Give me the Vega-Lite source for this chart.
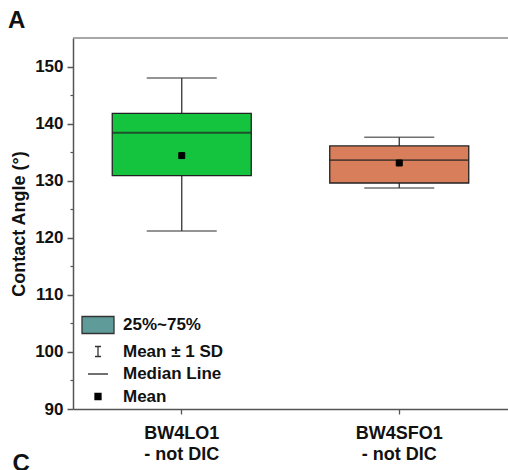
{
  "$schema": "https://vega.github.io/schema/vega-lite/v6.json",
  "width": 435,
  "height": 371,
  "autosize": "none",
  "padding": {"left": 73, "top": 38, "right": 0, "bottom": 61},
  "background": "white",
  "config": {"font": "Liberation Sans", "view": {"stroke": null}},
  "title": {
    "text": "A",
    "anchor": "start",
    "frame": "group",
    "fontSize": 24,
    "fontWeight": "bold",
    "color": "#111111",
    "dx": -65,
    "dy": 25,
    "offset": 10,
    "baseline": "alphabetic"
  },
  "data": {
    "values": [
      {"group": "BW4LO1\n- not DIC", "min": 121.2, "q1": 130.9, "median": 138.4, "q3": 141.8, "max": 148.0, "mean": 134.4, "stat": "Mean"},
      {"group": "BW4SFO1\n- not DIC", "min": 128.7, "q1": 129.6, "median": 133.6, "q3": 136.1, "max": 137.6, "mean": 133.1, "stat": "Mean"}
    ]
  },
  "layer": [
    {
      "data": {"values": [{"frame_top": 155}]},
      "mark": {"type": "rule", "color": "#8a8a8a", "strokeWidth": 1.5},
      "encoding": {
        "y": {
          "field": "frame_top",
          "type": "quantitative",
          "scale": {"domain": [90, 155], "nice": false, "zero": false},
          "axis": {
            "orient": "left",
            "values": [95, 105, 115, 125, 135, 145],
            "tickSize": 3,
            "tickColor": "#555555",
            "tickWidth": 1.2,
            "labels": false,
            "domain": false,
            "grid": false,
            "title": null
          }
        }
      }
    },
    {
      "mark": {"type": "rule", "color": "#333333", "strokeWidth": 1.3},
      "encoding": {
        "x": {
          "field": "group",
          "type": "nominal",
          "sort": null,
          "scale": {"paddingInner": 0, "paddingOuter": 0},
          "axis": {
            "labelExpr": "split(datum.label, '\\n')",
            "labelAngle": 0,
            "labelFontSize": 18,
            "labelFontWeight": "bold",
            "labelColor": "#111111",
            "labelPadding": 10,
            "labelLineHeight": 21,
            "labelBaseline": "top",
            "tickSize": 5,
            "tickColor": "#555555",
            "tickWidth": 1.3,
            "domainColor": "#555555",
            "domainWidth": 1.5,
            "grid": false,
            "title": "C",
            "titleAnchor": "start",
            "titleAlign": "left",
            "titleX": -61,
            "titleY": 61,
            "titleBaseline": "alphabetic",
            "titleFontSize": 24,
            "titleFontWeight": "bold",
            "titleColor": "#111111"
          }
        },
        "y": {
          "field": "min",
          "type": "quantitative",
          "axis": {
            "orient": "left",
            "values": [90, 100, 110, 120, 130, 140, 150],
            "title": "Contact Angle (°)",
            "tickSize": 6,
            "tickWidth": 1.5,
            "tickColor": "#555555",
            "domainColor": "#555555",
            "domainWidth": 1.5,
            "labelFontSize": 17,
            "labelFontWeight": "bold",
            "labelColor": "#111111",
            "labelPadding": 4,
            "titleFontSize": 18,
            "titleFontWeight": "bold",
            "titleColor": "#111111",
            "titlePadding": 6,
            "grid": false
          }
        },
        "y2": {"field": "max"}
      }
    },
    {
      "mark": {"type": "tick", "orient": "horizontal", "size": 70, "thickness": 1.5, "color": "#333333"},
      "encoding": {
        "x": {"field": "group", "type": "nominal", "sort": null},
        "y": {"field": "max", "type": "quantitative", "axis": null}
      }
    },
    {
      "mark": {"type": "tick", "orient": "horizontal", "size": 70, "thickness": 1.5, "color": "#333333"},
      "encoding": {
        "x": {"field": "group", "type": "nominal", "sort": null},
        "y": {"field": "min", "type": "quantitative", "axis": null}
      }
    },
    {
      "mark": {"type": "bar", "size": 139, "stroke": "#222222", "strokeWidth": 1.3, "opacity": 1},
      "encoding": {
        "x": {"field": "group", "type": "nominal", "sort": null},
        "y": {"field": "q1", "type": "quantitative", "axis": null},
        "y2": {"field": "q3"},
        "color": {
          "field": "group",
          "type": "nominal",
          "scale": {"range": ["#14c43f", "#d97e5b"]},
          "legend": null
        }
      }
    },
    {
      "mark": {"type": "tick", "orient": "horizontal", "size": 139, "thickness": 1.8, "color": "#222222"},
      "encoding": {
        "x": {"field": "group", "type": "nominal", "sort": null},
        "y": {"field": "median", "type": "quantitative", "axis": null}
      }
    },
    {
      "mark": {"type": "point", "filled": true, "size": 400, "strokeWidth": 1, "opacity": 1},
      "encoding": {
        "x": {"field": "group", "type": "nominal", "sort": null},
        "y": {"field": "mean", "type": "quantitative", "axis": null},
        "shape": {
          "field": "stat",
          "type": "nominal",
          "scale": {
            "domain": ["25%~75%", "Mean ± 1 SD", "Median Line", "Mean"],
            "range": [
              "M-1.6,-0.85H1.6V0.85H-1.6Z",
              "M-0.3,-0.5H0.3M0,-0.5V0.5M-0.3,0.5H0.3",
              "M-1,0H1",
              "M-0.3,-0.3H0.3V0.3H-0.3Z"
            ]
          },
          "legend": {
            "orient": "none",
            "legendX": 14,
            "legendY": 276,
            "title": null,
            "padding": 0,
            "symbolSize": 400,
            "symbolStrokeWidth": 1.3,
            "labelFont": "Liberation Sans",
            "labelFontSize": 17,
            "labelFontWeight": "bold",
            "labelColor": "#111111",
            "labelOffset": 14,
            "rowPadding": 3.5
          }
        },
        "fill": {
          "field": "stat",
          "type": "nominal",
          "scale": {
            "domain": ["25%~75%", "Mean ± 1 SD", "Median Line", "Mean"],
            "range": ["#5f9b98", "transparent", "transparent", "#000000"]
          }
        },
        "stroke": {
          "field": "stat",
          "type": "nominal",
          "scale": {
            "domain": ["25%~75%", "Mean ± 1 SD", "Median Line", "Mean"],
            "range": ["#333333", "#333333", "#222222", "#000000"]
          }
        }
      }
    }
  ],
  "resolve": {"axis": {"y": "independent"}}
}
